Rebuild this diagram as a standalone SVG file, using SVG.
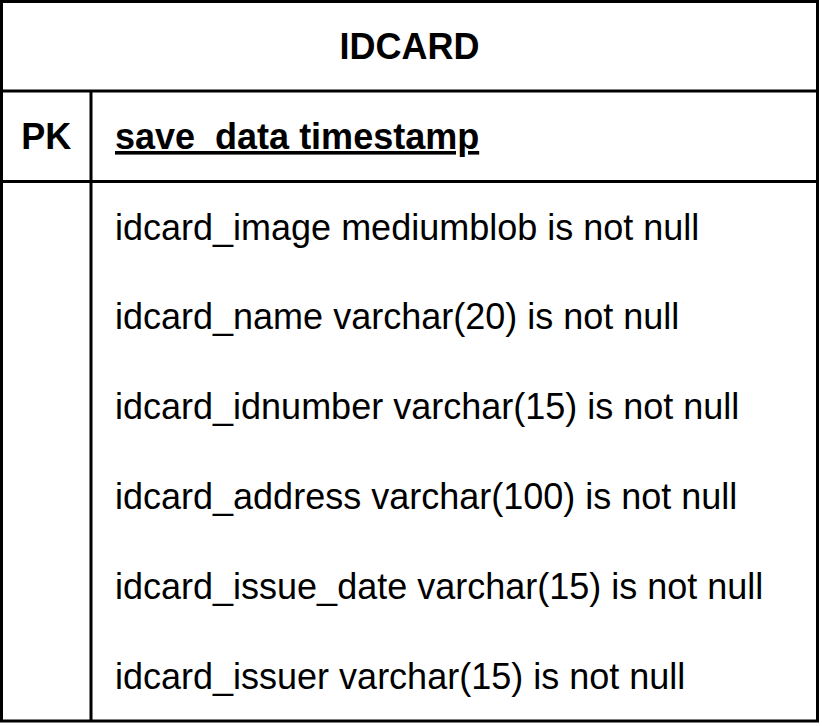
<svg xmlns="http://www.w3.org/2000/svg" width="822" height="726" viewBox="0 0 822 726">
  <style>
    .grid { fill: none; stroke: #000; stroke-width: 3; }
    .t { font-family: "Liberation Sans", Arial, sans-serif; font-size: 36px; fill: #000; }
    .b { font-weight: bold; }
    .c { text-anchor: middle; }
  </style>
  <rect x="0" y="0" width="822" height="726" fill="#fff"/>
  <g id="idcard-table">
    <!-- table frame and dividers -->
    <g id="frame" class="grid">
      <rect x="1.5" y="1.5" width="816" height="719.5"/>
      <line x1="1.5" y1="91" x2="817.5" y2="91"/>
      <line x1="1.5" y1="181.5" x2="817.5" y2="181.5"/>
      <line x1="91" y1="91" x2="91" y2="721"/>
    </g>
    <g id="title">
      <text class="t b c" x="409.5" y="59">IDCARD</text>
    </g>
    <g id="pk-row">
      <text class="t b c" x="46.25" y="149">PK</text>
      <text class="t b" x="115" y="149" text-decoration="underline">save_data timestamp</text>
    </g>
    <g id="fields">
      <text class="t" x="115" y="239.5">idcard_image mediumblob is not null</text>
      <text class="t" x="115" y="329.4">idcard_name varchar(20) is not null</text>
      <text class="t" x="115" y="419.3">idcard_idnumber varchar(15) is not null</text>
      <text class="t" x="115" y="509.2">idcard_address varchar(100) is not null</text>
      <text class="t" x="115" y="599.1">idcard_issue_date varchar(15) is not null</text>
      <text class="t" x="115" y="689">idcard_issuer varchar(15) is not null</text>
    </g>
  </g>
</svg>
